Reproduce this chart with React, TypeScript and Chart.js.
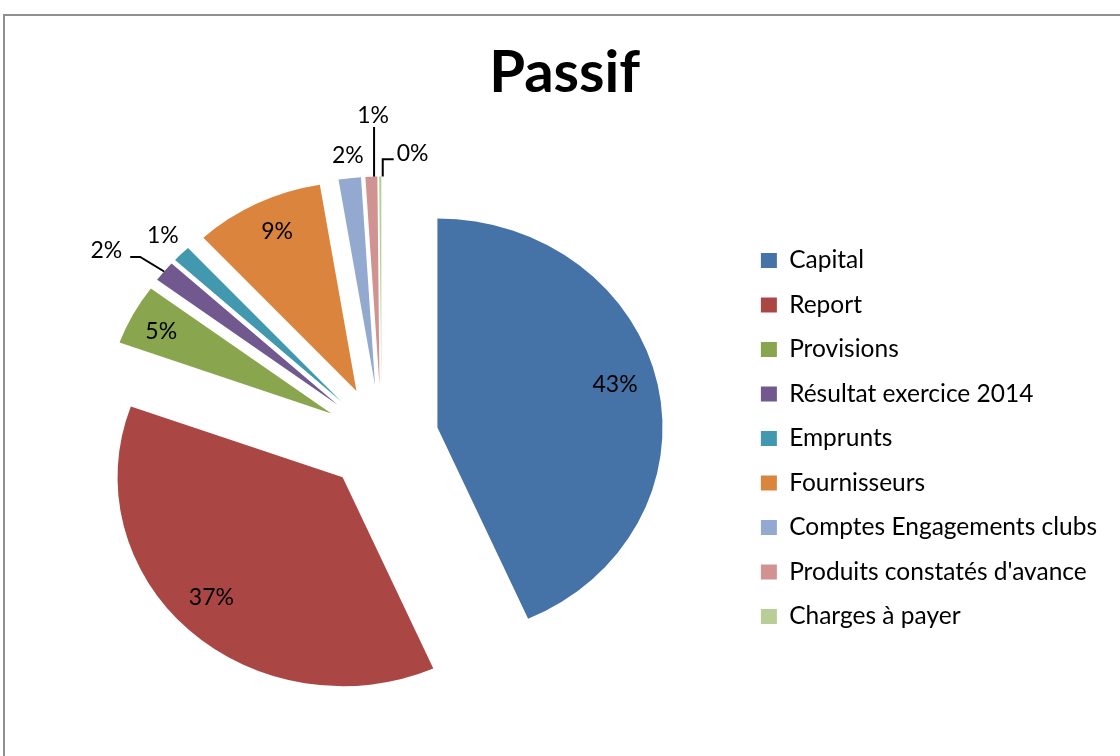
import { useEffect, useRef } from "react";
import { Chart, registerables } from "chart.js";

Chart.register(...registerables);

const categories = [
  "Capital",
  "Report",
  "Provisions",
  "Résultat exercice 2014",
  "Emprunts",
  "Fournisseurs",
  "Comptes Engagements clubs",
  "Produits constatés d'avance",
  "Charges à payer",
];
const shares = [43.4, 37.1, 4.7, 1.6, 1.3, 9.3, 1.6, 0.85, 0.15];
const colors = [
  "#4572A7",
  "#AA4643",
  "#89A54E",
  "#71588F",
  "#4198AF",
  "#DB843D",
  "#93A9CF",
  "#D19392",
  "#B9CD96",
];
const titleText = "Passif";

// data-label placement (fraction of radius from slice tip, angle shift in degrees, leader style)
const labelRadius = [0.816, 0.82, 0.85, 1.265, 1.12, 0.84, 1.106, 1.29, 1.12];
const labelShift = [-2.9, 2.3, -1.0, -3.9, 0.2, 1.3, 0.2, 0.8, 7.4];
const labelLeader = ["", "", "", "left", "", "", "", "above", "right"];

const STRETCH = 1.077;
const EXPLODE = 53;
const RADIUS = 209;
const FONT = "Lato";

const explodedPie = {
  id: "explodedPie",
  beforeDraw(chart: any) {
    const ctx = chart.ctx;
    ctx.save();
    ctx.strokeStyle = "#8f8f8f";
    ctx.lineWidth = 2;
    ctx.beginPath();
    ctx.moveTo(4, chart.height);
    ctx.lineTo(4, 15);
    ctx.lineTo(chart.width, 15);
    ctx.stroke();
    ctx.restore();
  },
  beforeDatasetsDraw(chart: any) {
    const ctx = chart.ctx;
    const meta = chart.getDatasetMeta(0);
    meta.data.forEach((arc: any) => {
      const { x, startAngle, endAngle } = arc.getProps(["x", "startAngle", "endAngle"], true);
      const mid = (startAngle + endAngle) / 2;
      ctx.save();
      ctx.translate(x, 0);
      ctx.scale(STRETCH, 1);
      ctx.translate(-x, 0);
      ctx.translate(Math.cos(mid) * EXPLODE, Math.sin(mid) * EXPLODE);
      arc.draw(ctx, chart.chartArea);
      ctx.restore();
    });
    return false;
  },
  afterDraw(chart: any) {
    const ctx = chart.ctx;
    const meta = chart.getDatasetMeta(0);
    const total = shares.reduce((a, b) => a + b, 0);
    ctx.save();
    ctx.font = `23px ${FONT}`;
    ctx.fillStyle = "#000";
    ctx.strokeStyle = "#000";
    ctx.lineWidth = 2;
    ctx.textAlign = "center";
    ctx.textBaseline = "middle";
    meta.data.forEach((arc: any, i: number) => {
      const { x, y, startAngle, endAngle, outerRadius } = arc.getProps(
        ["x", "y", "startAngle", "endAngle", "outerRadius"],
        true
      );
      const mid = (startAngle + endAngle) / 2;
      const la = mid + (labelShift[i] * Math.PI) / 180;
      const dist = labelRadius[i] * outerRadius;
      const lx = x + STRETCH * (Math.cos(mid) * EXPLODE + Math.cos(la) * dist);
      const ly = y + Math.sin(mid) * EXPLODE + Math.sin(la) * dist;
      const text = Math.round((shares[i] / total) * 100) + "%";
      ctx.fillText(text, lx, ly);
      const w = ctx.measureText(text).width;
      const ax = x + STRETCH * Math.cos(mid) * (EXPLODE + outerRadius);
      const ay = y + Math.sin(mid) * (EXPLODE + outerRadius);
      const style = labelLeader[i];
      if (style === "left") {
        const tx = lx + w / 2 + 8;
        const ty = ly + 6.5;
        ctx.beginPath();
        ctx.moveTo(tx, ty);
        ctx.lineTo(tx + 10, ty);
        ctx.lineTo(ax, ay);
        ctx.stroke();
      } else if (style === "right") {
        const tx = lx - w / 2 - 3;
        const ty = ly + 6;
        ctx.beginPath();
        ctx.moveTo(tx, ty);
        ctx.lineTo(ax + 2.5, ty);
        ctx.lineTo(ax + 2.5, ay);
        ctx.stroke();
      } else if (style === "above") {
        ctx.beginPath();
        ctx.moveTo(lx + 1, ly + 11);
        ctx.lineTo(lx + 1, ay);
        ctx.stroke();
      }
    });
    ctx.restore();
  },
};

export default function App() {
  const canvasRef = useRef<HTMLCanvasElement | null>(null);

  useEffect(() => {
    document.body.style.margin = "0";
    const canvas = canvasRef.current;
    if (!canvas) return;
    const chart = new Chart(canvas, {
      type: "pie",
      data: {
        labels: categories,
        datasets: [
          {
            data: shares,
            backgroundColor: colors,
            borderColor: colors,
            borderWidth: 0,
          },
        ],
      },
      options: {
        responsive: false,
        animation: false,
        devicePixelRatio: 1,
        radius: RADIUS,
        layout: { padding: { top: 10, left: 22.25, right: 13, bottom: 0 } },
        plugins: {
          title: {
            display: true,
            text: titleText,
            color: "#000",
            font: { family: FONT, size: 58, weight: "bold" },
            padding: { top: 28.6, bottom: 12.8 },
          },
          legend: {
            position: "right",
            align: "center",
            fullSize: false,
            labels: {
              color: "#000",
              font: { family: FONT, size: 24.5 },
              boxWidth: 16,
              boxHeight: 15,
              padding: 20,
            },
          },
          tooltip: { enabled: false },
        },
      } as any,
      plugins: [explodedPie as any],
    });
    return () => chart.destroy();
  }, []);

  return <canvas ref={canvasRef} width={1120} height={756} style={{ display: "block" }} />;
}
